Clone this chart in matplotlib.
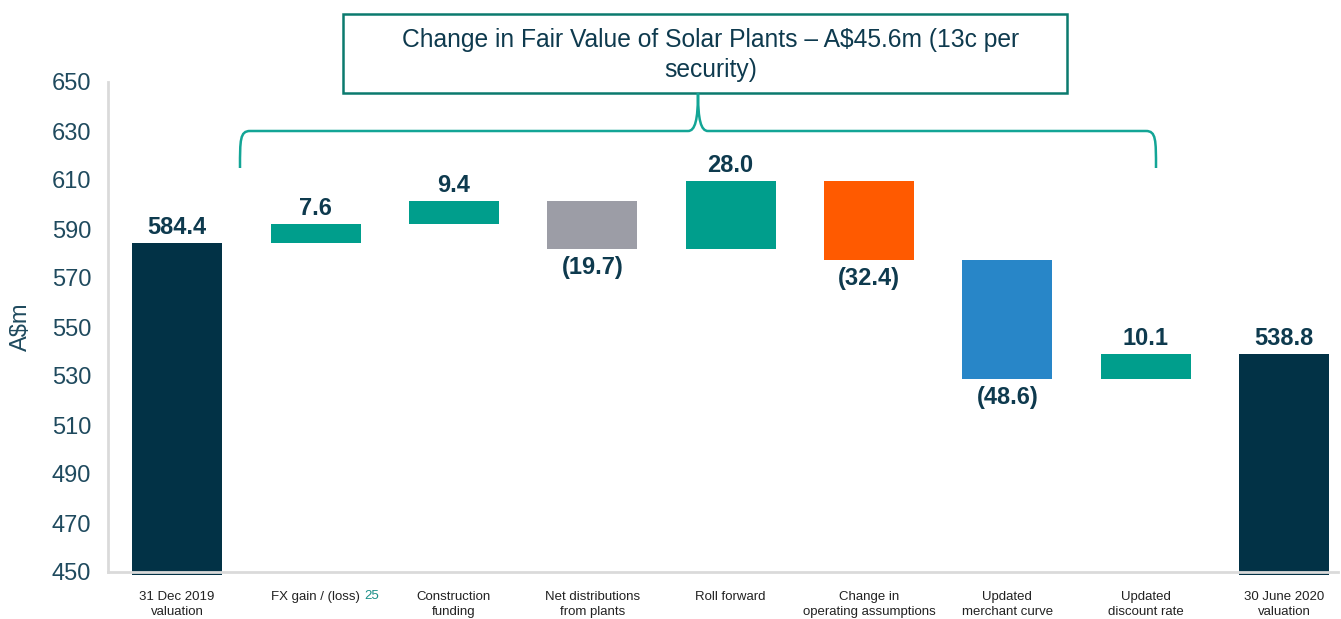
import matplotlib
matplotlib.use("Agg")
import matplotlib.pyplot as plt
import matplotlib.patches as mpatches
from matplotlib.path import Path
import numpy as np

# data
categories = ["31 Dec 2019\nvaluation", "FX gain / (loss)", "Construction\nfunding",
              "Net distributions\nfrom plants", "Roll forward", "Change in\noperating assumptions",
              "Updated\nmerchant curve", "Updated\ndiscount rate", "30 June 2020\nvaluation"]
start_value = 584.4
changes = [7.6, 9.4, -19.7, 28.0, -32.4, -48.6, 10.1]
end_value = 538.8
value_labels = ["584.4", "7.6", "9.4", "(19.7)", "28.0", "(32.4)", "(48.6)", "10.1", "538.8"]
bar_colors = ["#023246", "#009E8C", "#009E8C", "#9C9DA6", "#009E8C",
              "#FF5A00", "#2886C8", "#009E8C", "#023246"]
y_ticks = [450, 470, 490, 510, 530, 550, 570, 590, 610, 630, 650]
title_text = "Change in Fair Value of Solar Plants \u2013 A$45.6m (13c per\nsecurity)"

navy_text = "#0E3A4E"
tick_color = "#1F4A5E"
teal_line = "#13A596"
box_edge = "#0B7A6E"
narrow = ["Liberation Sans Narrow", "Liberation Sans", "DejaVu Sans"]
plt.rcParams["font.family"] = narrow

W, H = 1341, 619
fig = plt.figure(figsize=(W / 100, H / 100), dpi=100)
fig.patch.set_facecolor("white")
ax = fig.add_axes([108 / W, 1 - 572 / H, (1338 - 108) / W, (572 - 82) / H])

# waterfall bars
x = np.arange(len(categories))
base = 448.8
bottoms, heights = [base], [start_value - base]
is_neg = [False]
level = start_value
for d in changes:
    new_level = level + d
    bottoms.append(min(level, new_level))
    heights.append(abs(d))
    is_neg.append(d < 0)
    level = new_level
bottoms.append(base)
heights.append(end_value - base)
is_neg.append(False)

ax.bar(x, heights, bottom=bottoms, width=0.65, color=bar_colors, zorder=2, clip_on=False)

# value labels
for i, (b, h) in enumerate(zip(bottoms, heights)):
    if is_neg[i]:
        ax.annotate(value_labels[i], (x[i], b), xytext=(0, -5), textcoords="offset points",
                    ha="center", va="top", fontsize=17, fontweight="bold", color=navy_text,
                    family=["Liberation Sans", "DejaVu Sans"])
    else:
        ax.annotate(value_labels[i], (x[i], b + h), xytext=(0, 3), textcoords="offset points",
                    ha="center", va="bottom", fontsize=17, fontweight="bold", color=navy_text,
                    family=["Liberation Sans", "DejaVu Sans"])

ax.set_xlim(-0.5, 8.39)
ax.set_ylim(450, 650)
ax.set_yticks(y_ticks)
ax.set_xticks(x)
ax.set_xticklabels(categories, fontsize=9.5, color="#222222", linespacing=1.3)
ax.tick_params(axis="x", length=0, pad=14)
ax.tick_params(axis="y", length=0, pad=12, labelsize=17, labelcolor=tick_color)

for s in ["top", "right"]:
    ax.spines[s].set_visible(False)
for s in ["left", "bottom"]:
    ax.spines[s].set_color("#DADADA")
    ax.spines[s].set_linewidth(2)
    ax.spines[s].set_zorder(3)

ax.set_ylabel("A$m", fontsize=17, color=tick_color, labelpad=14)

# small page number next to FX label
fig.text(372 / W, 1 - 596 / H, "25", fontsize=9.5, color="#1A8F88", ha="center", va="center")


def px(xp, yp):
    return (xp / W, 1 - yp / H)


# title box
box = mpatches.Rectangle(px(343, 93), (1067 - 343) / W, (93 - 14) / H,
                         transform=fig.transFigure, fill=False, edgecolor=box_edge, linewidth=1.8)
fig.patches.append(box)
fig.text(711 / W, 1 - 55 / H, title_text, ha="center", va="center", fontsize=17.7,
         color=navy_text, linespacing=1.3)

# brace
pts = [(240, 168), (240, 140), (240, 131), (250, 131),
       (688, 131), (695, 131), (698, 120), (698, 93),
       (698, 120), (701, 131), (708, 131),
       (1146, 131), (1156, 131), (1156, 140), (1156, 168)]
codes = [Path.MOVETO, Path.CURVE4, Path.CURVE4, Path.CURVE4,
         Path.LINETO, Path.CURVE4, Path.CURVE4, Path.CURVE4,
         Path.CURVE4, Path.CURVE4, Path.CURVE4,
         Path.LINETO, Path.CURVE4, Path.CURVE4, Path.CURVE4]
brace = mpatches.PathPatch(Path([px(*p) for p in pts], codes), transform=fig.transFigure,
                           fill=False, edgecolor=teal_line, linewidth=1.8)
fig.patches.append(brace)

fig.savefig("out.png", dpi=100)
